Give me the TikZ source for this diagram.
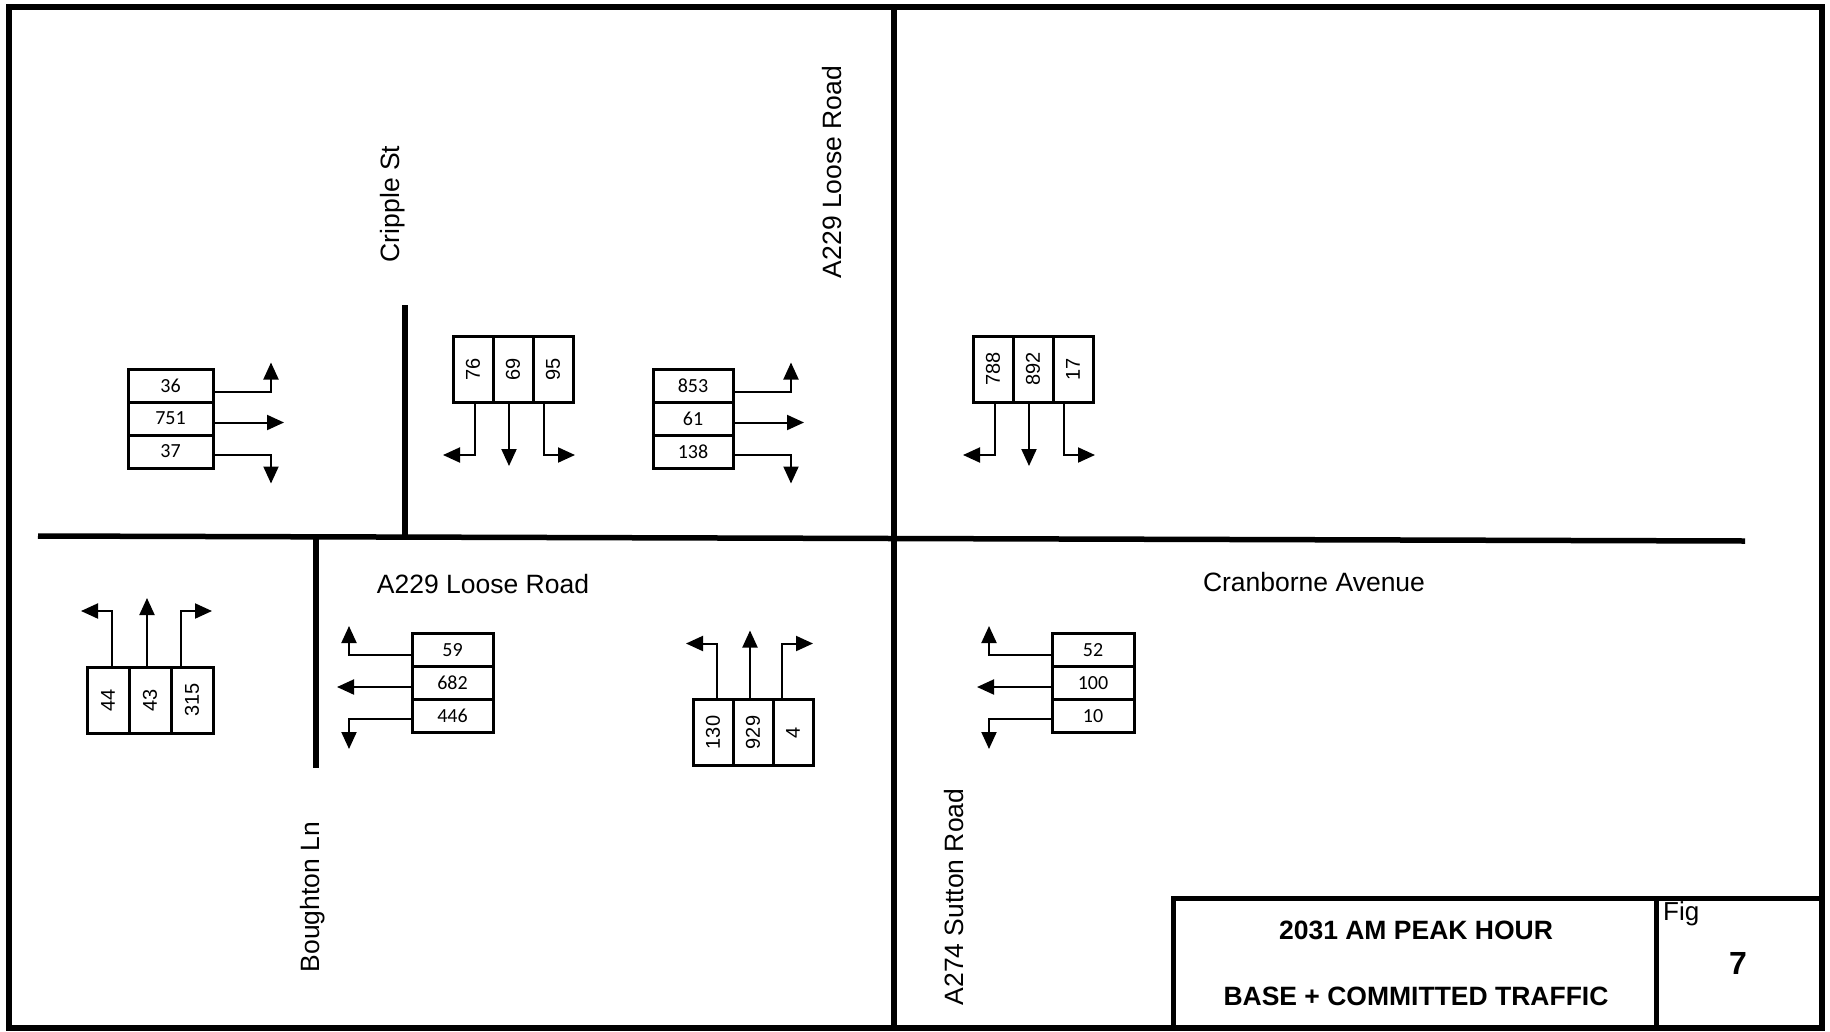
\documentclass[tikz,border=0pt]{standalone}
\usepackage{fontspec}
\usepackage{graphicx}
\setmainfont{Liberation Sans}
\newfontfamily\calibri{Carlito}
\usetikzlibrary{arrows.meta,positioning}
\newcommand\upnum[1]{\rotatebox{90}{#1}}
\tikzset{
  frame/.style ={line width=6pt},
  road/.style  ={line width=5.5pt},
  tbox/.style  ={line width=5pt},
  hcell/.style ={draw, line width=3pt, minimum width=82pt, minimum height=33pt,
                 inner sep=0pt, outer sep=0pt, font=\fontsize{20}{24}\selectfont\calibri},
  vcell/.style ={draw, line width=3pt, minimum width=40pt, minimum height=66pt,
                 inner sep=0pt, outer sep=0pt, font=\fontsize{20}{24}\selectfont},
  arr/.style   ={-{Triangle[length=17pt,width=15pt]}, line width=2pt},
  street/.style={font=\fontsize{26.5}{30}\selectfont},
  title/.style ={font=\fontsize{26.5}{30}\selectfont\bfseries},
}

\begin{document}
\begin{tikzpicture}[x=1pt, y=-1pt]
  \useasboundingbox (0,0) rectangle (1830,1031);

  % frame and roads
  \coordinate (nw) at (9,7);
  \coordinate (se) at (1822,1028);
  \draw[frame] (nw) rectangle (se);
  \coordinate (loosetop)    at (894,7);
  \coordinate (loosebot)    at (894,1028);
  \coordinate (loosewest)   at (38,536);
  \coordinate (cranbeast)   at (1745,541);
  \coordinate (crippletop)  at (405,305);
  \coordinate (cripplebot)  at (405,536);
  \coordinate (boughtontop) at (316,538);
  \coordinate (boughtonbot) at (316,768);
  \draw[road] (loosetop) -- (loosebot);
  \draw[road] (loosewest) -- (cranbeast);
  \draw[road] (crippletop) -- (cripplebot);
  \draw[road] (boughtontop) -- (boughtonbot);

  % street names
  \node[street, rotate=90] (cripple)  at (393,204) {Cripple St};
  \node[street, rotate=90] (loosen)   at (832,172) {A229 Loose Road};
  \node[street]            (loosew)   at (483,584) {A229 Loose Road};
  \node[street]            (cranb)    at (1314,582) {Cranborne Avenue};
  \node[street, rotate=90] (boughton) at (313,897) {Boughton Ln};
  \node[street, rotate=90] (sutton)   at (954,897) {A274 Sutton Road};

  % title block
  \coordinate (tbsw)  at (1173,1028);
  \coordinate (tbnw)  at (1173,898);
  \coordinate (tbne)  at (1822,898);
  \coordinate (tbdn)  at (1656,898);
  \coordinate (tbds)  at (1656,1028);
  \draw[tbox] (tbsw) -- (tbnw) -- (tbne);
  \draw[tbox] (tbdn) -- (tbds);
  \node[title] (title1) at (1416,930) {2031 AM PEAK HOUR};
  \node[title] (title2) at (1416,996) {BASE + COMMITTED TRAFFIC};
  \node[font=\fontsize{26}{30}\selectfont, anchor=west, inner sep=0pt] (figlbl) at (1663,914) {Fig};
  \node[font=\fontsize{32}{36}\selectfont\bfseries] (fignum) at (1738,963) {7};

  % eastbound stacks
  \node[hcell, minimum width=85pt] (g1a) at (170.5,385.5) {36};
  \node[hcell, minimum width=85pt, below=0pt of g1a] (g1b) {751};
  \node[hcell, minimum width=85pt, below=0pt of g1b] (g1c) {37};
  \node[hcell, minimum width=80pt] (g3a) at (693,385.5) {853};
  \node[hcell, minimum width=80pt, below=0pt of g3a] (g3b) {61};
  \node[hcell, minimum width=80pt, below=0pt of g3b] (g3c) {138};
  \foreach \g in {g1,g3} {
    \draw[arr] ([yshift=-6pt]\g a.east) -- ++(58,0) -- ++(0,-29);
    \draw[arr] ([yshift=-4pt]\g b.east) -- ++(71,0);
    \draw[arr] ([yshift=-3pt]\g c.east) -- ++(58,0) -- ++(0,29);
  }

  % westbound stacks
  \node[hcell, minimum width=81pt] (g6a) at (452.5,650) {59};
  \node[hcell, minimum width=81pt, below=0pt of g6a] (g6b) {682};
  \node[hcell, minimum width=81pt, below=0pt of g6b] (g6c) {446};
  \node[hcell] (g8a) at (1093,650) {52};
  \node[hcell, below=0pt of g8a] (g8b) {100};
  \node[hcell, below=0pt of g8b] (g8c) {10};
  \foreach \g in {g6,g8} {
    \draw[arr] ([yshift=-5pt]\g a.west) -- ++(-63,0) -- ++(0,-29);
    \draw[arr] ([yshift=-4pt]\g b.west) -- ++(-75,0);
    \draw[arr] ([yshift=-3pt]\g c.west) -- ++(-63,0) -- ++(0,30);
  }

  % southbound stacks
  \node[vcell] (g2a) at (473,369) {\upnum{76}};
  \node[vcell, right=0pt of g2a] (g2b) {\upnum{69}};
  \node[vcell, right=0pt of g2b] (g2c) {\upnum{95}};
  \node[vcell] (g4a) at (993,369) {\upnum{788}};
  \node[vcell, right=0pt of g4a] (g4b) {\upnum{892}};
  \node[vcell, right=0pt of g4b] (g4c) {\upnum{17}};
  \foreach \g in {g2,g4} {
    \draw[arr] ([xshift=2pt]\g a.south) -- ++(0,53) -- ++(-32,0);
    \draw[arr] ([xshift=-4pt]\g b.south) -- ++(0,64);
    \draw[arr] ([xshift=-9pt]\g c.south) -- ++(0,53) -- ++(31,0);
  }

  % northbound stacks
  \node[vcell, minimum width=42pt] (g5a) at (108,700) {\upnum{44}};
  \node[vcell, minimum width=42pt, right=0pt of g5a] (g5b) {\upnum{43}};
  \node[vcell, minimum width=42pt, right=0pt of g5b] (g5c) {\upnum{315}};
  \node[vcell] (g7a) at (713,732.5) {\upnum{130}};
  \node[vcell, right=0pt of g7a] (g7b) {\upnum{929}};
  \node[vcell, right=0pt of g7b] (g7c) {\upnum{4}};
  \foreach \g in {g5,g7} {
    \draw[arr] ([xshift=4pt]\g a.north) -- ++(0,-56) -- ++(-31,0);
    \draw[arr] ([xshift=-3pt]\g b.north) -- ++(0,-69);
    \draw[arr] ([xshift=-11pt]\g c.north) -- ++(0,-56) -- ++(31,0);
  }
\end{tikzpicture}
\end{document}
